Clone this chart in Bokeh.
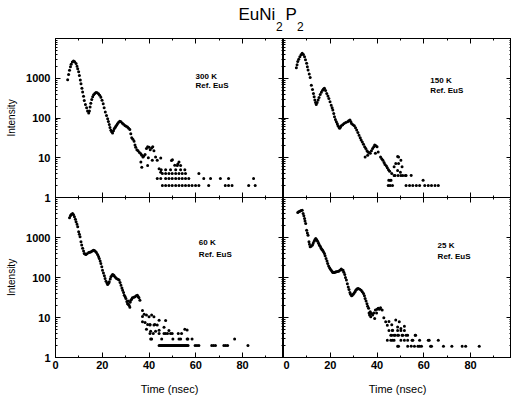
from bokeh.plotting import figure
from bokeh.layouts import column, row
from bokeh.models import Range1d, FixedTicker, LinearAxis, LogAxis, NumeralTickFormatter, Label
from bokeh.embed import file_html
from bokeh.resources import INLINE

# ---------------- data ----------------
title_parts = ["EuNi", "2", "P", "2"]
temperatures = ["300 K", "150 K", "60 K", "25 K"]
reference_text = "Ref. EuS"
x_tick_values = [0, 20, 40, 60, 80]
y_tick_values = [1, 10, 100, 1000]
x_axis_title = "Time (nsec)"
y_axis_title = "Intensity"

data_300K = [
    (5.2, 920), (5.6, 1250), (6.0, 1580), (6.4, 1950), (6.7, 2240), (7.2, 2550), (7.7, 2700), (8.2, 2600),
    (8.8, 2340), (9.2, 2000), (9.5, 1740), (9.9, 1450), (10.2, 1180), (10.6, 900), (10.9, 730), (11.3, 560),
    (11.6, 450), (12.0, 350), (12.3, 277), (12.8, 220), (13.3, 182), (13.7, 150), (14.2, 133), (14.5, 150),
    (14.8, 188), (15.1, 235), (15.5, 290), (15.9, 340), (16.3, 385), (16.8, 415), (17.3, 440), (17.8, 430),
    (18.4, 410), (18.9, 375), (19.4, 335), (19.9, 280), (20.4, 228), (20.8, 180), (21.3, 141), (21.8, 115),
    (22.3, 96), (22.6, 82), (23.0, 69), (23.3, 58), (23.7, 49), (24.0, 45), (24.4, 42), (24.8, 48),
    (25.1, 54), (25.5, 58), (25.8, 62), (26.2, 67), (26.5, 72), (27.0, 78), (27.5, 83), (28.0, 80),
    (28.6, 74), (29.1, 70), (29.7, 65), (30.2, 62), (30.8, 59), (31.3, 55), (31.8, 51), (32.2, 40),
    (32.6, 32), (33.1, 29), (33.6, 26), (34.0, 21), (34.3, 18.5), (34.8, 16), (35.3, 15), (35.9, 13.5),
    (36.5, 12.6), (36.9, 11.5), (37.4, 10.4), (37.8, 11), (38.3, 12), (38.9, 17), (39.4, 19), (40.0, 18.5),
    (40.5, 16), (41.1, 17.5), (41.6, 19), (42.1, 15), (42.8, 10.4),
    (36.5, 7.8), (36.9, 5.8), (39.7, 10), (41.4, 8.6), (43.5, 8.6), (39.4, 6.4), (44.3, 5.3), (45.0, 4.3),
    (45.0, 9.8), (49.6, 8.5), (52.3, 7), (51.0, 6.5), (52.8, 7.8), (50.0, 8.9), (52.1, 6.4), (53.5, 6.4),
    (45.2, 5), (47.1, 5), (49.2, 5), (51.4, 5), (53.5, 5), (55.3, 5),
    (45.7, 4), (47.1, 4), (48.5, 4), (49.9, 4), (51.4, 4), (52.8, 4), (54.2, 4), (55.6, 4), (61.3, 4),
    (43.5, 3), (45.0, 3), (47.1, 3), (48.5, 3), (49.9, 3), (51.4, 3), (52.8, 3), (54.2, 3), (55.6, 3),
    (57.0, 3), (63.4, 3), (66.3, 3), (70.5, 3), (74.0, 3), (84.7, 3),
    (45.7, 2), (47.1, 2), (48.5, 2), (49.9, 2), (51.4, 2), (52.8, 2), (54.2, 2), (55.6, 2), (57.0, 2),
    (58.4, 2), (59.9, 2), (61.3, 2), (65.5, 2), (72.6, 2), (74.0, 2), (75.5, 2), (82.6, 2), (85.4, 2),
]

data_150K = [
    (5.5, 1850), (5.8, 2200), (6.1, 2620), (6.5, 3000), (7.0, 3490), (7.5, 3900), (8.0, 4230), (8.5, 3950),
    (9.0, 3490), (9.4, 2900), (9.9, 2390), (10.2, 1950), (10.5, 1610), (11.0, 1280), (11.4, 1040), (11.9, 670),
    (12.4, 520), (12.8, 415), (13.1, 340), (13.4, 282), (13.7, 245), (14.0, 220), (14.4, 245), (14.8, 282),
    (15.2, 330), (15.7, 390), (16.2, 445), (16.7, 500), (17.1, 540), (17.5, 560), (18.0, 490), (18.5, 415),
    (19.0, 360), (19.4, 310), (19.9, 255), (20.4, 210), (20.8, 180), (21.1, 158), (21.5, 130), (21.8, 108),
    (22.2, 92), (22.6, 81), (23.0, 72), (23.3, 64), (23.7, 59), (24.0, 55), (24.4, 59), (24.7, 64),
    (25.3, 68), (25.9, 73), (26.6, 77), (27.4, 81), (27.9, 85), (28.4, 89), (28.8, 80), (29.1, 73),
    (29.7, 68), (30.3, 64), (30.8, 57), (31.3, 50), (31.8, 43), (32.3, 37), (32.8, 32), (33.2, 28),
    (33.7, 25), (34.2, 22), (34.7, 19), (35.2, 17), (35.7, 15), (36.1, 14), (36.6, 13.5), (37.1, 12.9),
    (37.6, 15), (38.1, 17), (38.6, 19), (39.0, 21), (39.5, 20), (40.0, 19), (40.5, 14), (39.3, 12.9),
    (34.9, 10.5), (36.0, 11.5), (41.5, 10.5), (42.0, 9.5), (42.5, 8.7), (43.0, 7.6), (43.4, 6.8), (44.0, 6.2),
    (44.4, 5.6), (44.9, 5.0), (45.4, 4.6), (46.3, 4.0), (47.3, 5.9), (48.0, 7.2), (48.8, 10.8), (49.2, 10.5),
    (49.2, 7.2), (50.2, 8.7), (50.7, 5.9), (48.8, 4.8), (50.0, 4.3),
    (47.3, 3.6), (47.7, 3.6), (49.0, 3.6), (50.2, 3.6), (51.0, 3.6), (52.1, 3.6), (52.4, 3.6), (54.6, 3.6),
    (45.0, 2.7), (45.6, 2.7), (46.0, 2.7), (59.7, 2.7),
    (44.8, 2), (45.6, 2), (46.6, 2), (52.4, 2), (53.9, 2), (55.3, 2), (56.8, 2), (58.2, 2), (60.4, 2),
    (61.9, 2), (63.3, 2), (64.8, 2), (66.2, 2),
]

data_60K = [
    (6.0, 3100), (6.4, 3500), (6.7, 3770), (7.3, 3980), (7.7, 3700), (8.1, 3300), (8.5, 2850), (8.8, 2460),
    (9.2, 2150), (9.5, 1850), (9.9, 1390), (10.2, 1200), (10.5, 1040), (10.9, 780), (11.2, 650), (11.6, 535),
    (12.0, 460), (12.3, 400), (12.7, 385), (13.0, 375), (13.5, 395), (14.2, 420), (14.7, 430), (15.2, 440),
    (15.7, 460), (16.2, 480), (16.6, 470), (17.0, 455), (17.5, 420), (18.0, 375), (18.4, 335), (18.7, 300),
    (19.1, 260), (19.4, 224), (19.8, 185), (20.1, 152), (20.5, 130), (20.9, 110), (21.2, 95), (21.6, 81),
    (22.0, 73), (22.3, 67), (22.7, 72), (23.0, 78), (23.4, 92), (23.7, 104), (24.1, 112), (24.4, 119),
    (24.8, 115), (25.1, 110), (25.6, 102), (26.1, 95), (26.7, 90), (27.2, 86), (27.6, 75), (28.0, 64),
    (28.4, 55), (28.7, 48), (29.1, 42), (29.4, 36), (29.8, 33), (30.1, 30), (30.5, 25), (30.8, 22),
    (31.2, 21), (31.5, 20), (31.9, 24), (32.2, 27), (32.6, 29), (32.9, 31), (33.5, 32), (34.0, 33),
    (34.5, 35), (35.0, 36), (35.4, 33), (35.7, 31), (36.1, 27), (31.0, 26), (31.8, 18),
    (37.2, 15), (37.2, 10.6), (37.9, 12), (38.9, 11.5), (40.0, 10.4), (41.1, 11.5), (42.1, 10.4),
    (37.2, 7.8), (38.3, 7.5), (39.4, 6.7), (40.4, 6.5), (42.1, 6.5), (43.5, 6.5), (38.9, 5.1), (40.7, 4.5),
    (42.8, 4.5), (44.3, 4.8), (44.3, 8.5), (46.4, 5.7), (47.1, 8.4), (48.5, 4.7), (55.3, 5.1), (56.3, 4.9),
    (40.4, 6.7), (42.5, 6.7),
    (40.4, 4), (41.8, 4), (44.3, 4), (46.4, 4), (47.1, 4), (47.9, 4), (49.2, 4), (49.9, 4), (52.5, 4), (53.9, 4),
    (40.7, 2.9), (41.1, 2.9), (45.4, 2.9), (50.2, 2.9), (52.8, 2.9), (53.5, 2.9), (56.3, 2.9), (56.6, 2.9),
    (58.4, 2.9), (76.6, 2.9),
    (44.3, 2), (44.7, 2), (45.1, 2), (45.5, 2), (45.9, 2), (46.3, 2), (46.7, 2), (47.1, 2), (47.5, 2),
    (47.9, 2), (48.3, 2), (48.7, 2), (49.1, 2), (49.5, 2), (49.9, 2), (50.3, 2), (50.7, 2), (51.1, 2),
    (51.5, 2), (51.9, 2), (52.3, 2), (52.7, 2), (53.1, 2), (53.5, 2), (53.9, 2), (54.3, 2), (54.7, 2),
    (55.1, 2), (55.5, 2), (55.9, 2), (56.3, 2), (56.7, 2), (59.7, 2), (60.5, 2), (61.3, 2), (66.8, 2),
    (67.6, 2), (68.4, 2), (72.0, 2), (72.8, 2), (73.6, 2), (82.3, 2),
]

data_25K = [
    (6.1, 4230), (6.5, 4400), (7.0, 4560), (7.5, 4700), (8.0, 4810), (8.4, 3980), (8.7, 3500), (9.0, 3000),
    (9.2, 2600), (9.5, 2240), (9.9, 1520), (10.2, 1300), (10.5, 1140), (10.9, 780), (11.1, 680), (11.4, 590),
    (11.8, 600), (12.4, 645), (12.7, 720), (13.1, 810), (13.4, 880), (13.8, 950), (14.2, 880), (14.6, 810),
    (15.0, 720), (15.3, 645), (15.7, 600), (16.0, 550), (16.4, 510), (16.7, 480), (17.1, 440), (17.5, 400),
    (17.8, 350), (18.2, 300), (18.6, 260), (18.9, 224), (19.3, 195), (19.7, 175), (20.0, 162), (20.4, 152),
    (20.8, 142), (21.1, 134), (21.5, 134), (21.8, 134), (22.2, 137), (22.6, 139), (23.1, 141), (23.6, 144),
    (24.1, 152), (24.7, 162), (25.1, 155), (25.5, 152), (25.8, 135), (26.2, 119), (26.5, 100), (26.9, 86),
    (27.3, 70), (27.7, 58), (28.0, 50), (28.4, 42), (28.7, 38), (29.1, 35), (29.4, 36), (29.8, 38),
    (30.2, 41), (30.6, 44), (30.9, 48), (31.3, 51), (31.6, 52), (32.0, 53), (32.6, 51), (33.2, 48),
    (33.7, 44), (34.2, 40), (34.6, 35), (34.9, 30), (35.3, 26), (35.7, 22), (36.0, 19), (36.4, 17),
    (36.6, 13), (37.1, 14), (37.6, 12.5), (38.1, 11.5), (38.6, 13), (39.0, 9.5), (39.3, 15.5), (39.8, 13),
    (40.0, 16), (40.5, 17), (41.0, 16), (41.5, 17.5), (42.2, 15.5), (37.3, 10.5), (36.8, 11.5),
    (42.9, 9.8), (43.7, 7.8), (45.1, 8.0), (44.4, 6.4), (46.3, 6.6), (48.0, 8.6), (49.5, 7.8), (48.8, 5.8),
    (50.2, 5.3), (51.7, 6.0), (46.6, 4.8),
    (45.1, 4.7), (46.6, 4.7), (48.8, 4.7), (50.2, 4.7), (51.7, 4.7),
    (45.9, 3.6), (46.3, 3.6), (47.3, 3.6), (47.7, 3.6), (48.8, 3.6), (49.2, 3.6), (50.7, 3.6), (51.0, 3.6),
    (52.4, 3.6), (53.1, 3.6), (56.3, 3.6), (56.5, 3.6),
    (44.4, 2.7), (45.9, 2.7), (46.6, 2.7), (47.3, 2.7), (50.2, 2.7), (51.7, 2.7), (53.1, 2.7), (55.0, 2.7),
    (55.3, 2.7), (58.2, 2.7), (61.9, 2.7), (62.3, 2.7), (66.2, 2.7),
    (48.8, 1.9), (49.2, 1.9), (53.1, 1.9), (54.6, 1.9), (56.0, 1.9), (57.5, 1.9), (58.2, 1.9), (59.0, 1.9),
    (62.9, 1.9), (63.3, 1.9), (68.4, 1.9), (72.0, 1.9), (76.4, 1.9), (77.9, 1.9), (83.7, 1.9),
]

# ---------------- layout / style ----------------
FONT = "Liberation Sans"
X_MAX = 97.5
Y_MIN, Y_MAX = 1, 10000
FRAME_W = 228
TOP_H = 159
BOT_H = 160
LEFT_BORDER = 55
BOTTOM_BORDER = 40
TITLE_H = 38
OVERLAP = 8          # extra room under the upper panels so the "1" label is not clipped
x_minor = [10, 30, 50, 70, 90]
y_minor = [m * 10 ** d for d in range(4) for m in range(2, 10)]

# label placement per panel: (x, y first line, y second line)
label_pos = [(59.9, 1085, 660), (62.8, 890, 495), (61.3, 730, 376), (65.9, 630, 335)]


def style_axis(ax, show_labels):
    ax.axis_line_color = "black"
    ax.axis_line_width = 1
    ax.major_tick_in = 5
    ax.major_tick_out = 0
    ax.minor_tick_in = 2
    ax.minor_tick_out = 0
    ax.major_tick_line_color = "black"
    ax.minor_tick_line_color = "black"
    ax.major_label_text_font = FONT
    if show_labels:
        ax.major_label_text_color = "black"
        ax.major_label_text_font_size = "11px"
        ax.major_label_text_font_style = "bold"
    else:
        ax.major_label_text_color = None
        ax.major_label_text_font_size = "1px"
        ax.major_label_standoff = 0


def make_panel(data, idx, frame_h, left, bottom, xlabels, ylabels, upper):
    p = figure(frame_width=FRAME_W, frame_height=frame_h, title=None,
               x_range=Range1d(0, X_MAX), y_range=Range1d(Y_MIN, Y_MAX),
               y_axis_type="log", x_axis_location=None, y_axis_location=None,
               output_backend="svg", toolbar_location=None,
               min_border_left=left, min_border_right=0,
               min_border_top=0, min_border_bottom=bottom)
    p.grid.visible = False
    p.outline_line_color = "black"
    p.outline_line_width = 1
    p.background_fill_color = "white"
    if upper:
        p.border_fill_color = "white"
    else:
        # lower panels overlap the upper panels' spare bottom strip: keep the border see-through
        p.border_fill_color = None
        p.margin = (-OVERLAP, 0, 0, 0)

    below = LinearAxis(ticker=FixedTicker(ticks=x_tick_values, minor_ticks=x_minor))
    style_axis(below, xlabels)
    if xlabels:
        below.major_label_standoff = 3
        below.axis_label = x_axis_title
        below.axis_label_text_font = FONT
        below.axis_label_text_font_size = "11px"
        below.axis_label_text_font_style = "normal"
        below.axis_label_text_color = "black"
        below.axis_label_standoff = 11
    p.add_layout(below, "below")

    above = LinearAxis(ticker=FixedTicker(ticks=x_tick_values, minor_ticks=x_minor))
    style_axis(above, False)
    p.add_layout(above, "above")

    leftax = LogAxis(ticker=FixedTicker(ticks=y_tick_values, minor_ticks=y_minor),
                     formatter=NumeralTickFormatter(format="0"))
    style_axis(leftax, ylabels)
    if ylabels:
        leftax.major_label_standoff = 5
        leftax.axis_label = y_axis_title
        leftax.axis_label_text_font = FONT
        leftax.axis_label_text_font_size = "10px"
        leftax.axis_label_text_font_style = "normal"
        leftax.axis_label_text_color = "black"
        leftax.axis_label_standoff = 6
    p.add_layout(leftax, "left")

    rightax = LogAxis(ticker=FixedTicker(ticks=y_tick_values, minor_ticks=y_minor))
    style_axis(rightax, False)
    p.add_layout(rightax, "right")

    t = [d[0] for d in data]
    v = [d[1] for d in data]
    p.scatter(t, v, marker="circle", size=3, color="black", line_width=0)

    lx, ly1, ly2 = label_pos[idx]
    for txt, yy in ((temperatures[idx], ly1), (reference_text, ly2)):
        p.add_layout(Label(x=lx, y=yy, text=txt, text_font=FONT, text_font_size="8px",
                           text_font_style="bold", text_color="black",
                           text_baseline="alphabetic", text_align="left"))
    return p


p1 = make_panel(data_300K, 0, TOP_H, LEFT_BORDER, OVERLAP, False, True, True)
p2 = make_panel(data_150K, 1, TOP_H, 0, OVERLAP, False, False, True)
p3 = make_panel(data_60K, 2, BOT_H, LEFT_BORDER, BOTTOM_BORDER, True, True, False)
p4 = make_panel(data_25K, 3, BOT_H, 0, BOTTOM_BORDER, True, False, False)

# title strip (coordinates = pixels, y measured from the strip's bottom)
tw = LEFT_BORDER + 2 * FRAME_W
tp = figure(width=tw, height=TITLE_H, title=None, x_range=Range1d(0, tw), y_range=Range1d(0, TITLE_H),
            x_axis_location=None, y_axis_location=None, output_backend="svg",
            toolbar_location=None, min_border=0)
tp.grid.visible = False
tp.outline_line_color = None
title_pos = [(238, 24, "17px"), (275.5, 12.3, "12px"), (285, 24, "17px"), (296.5, 12.3, "12px")]
for part, (x, y, fs) in zip(title_parts, title_pos):
    tp.add_layout(Label(x=x, y=y, text=part, text_font=FONT, text_font_size=fs,
                        text_color="black", text_baseline="alphabetic", text_align="left"))

layout = column(tp, row(p1, p2), row(p3, p4))
open("out.html", "w").write(file_html(layout, INLINE))
